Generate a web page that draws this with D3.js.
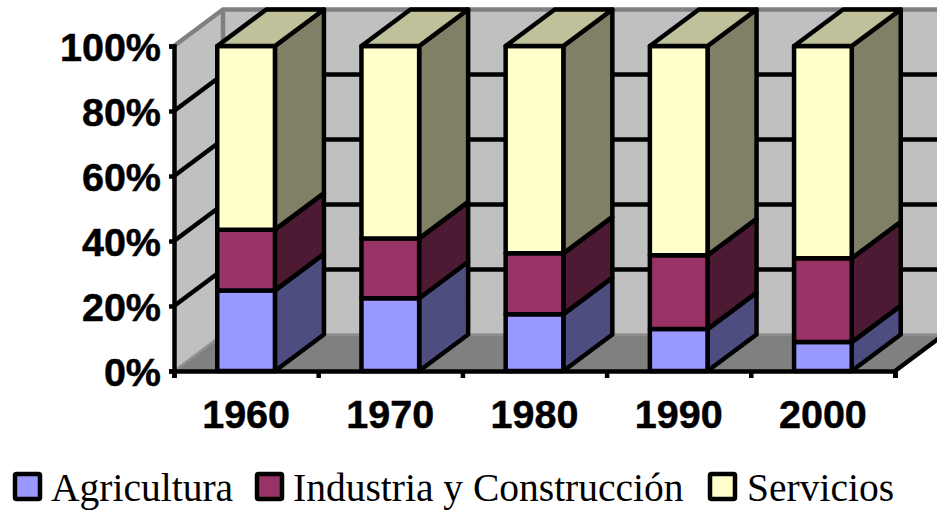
<!DOCTYPE html>
<html>
<head>
<meta charset="utf-8">
<script src="https://cdn.jsdelivr.net/npm/d3@7"></script>
<style>
  html, body { margin: 0; padding: 0; background: #fff; overflow: hidden; }
  svg { display: block; }
  .axis-label text { font-family: "Liberation Sans", Arial, sans-serif; font-weight: bold; font-size: 39.5px; fill: #000; stroke: #000; stroke-width: 0.5px; }
  .legend text { font-family: "Liberation Serif", "Times New Roman", serif; font-size: 39.5px; fill: #000; }
</style>
</head>
<body>
<svg width="937" height="510"></svg>
<script>
const years = ['1960', '1970', '1980', '1990', '2000'];
const seriesNames = ['Agricultura', 'Industria y Construcción', 'Servicios'];
const agricultura = [24.8, 22.4, 17.5, 12.9, 8.9];
const industria = [18.7, 18.4, 18.7, 22.7, 25.8];
const servicios = [56.5, 59.2, 63.8, 64.4, 65.3];
const yTicks = [0, 20, 40, 60, 80, 100];

const frontColors = ['#9999ff', '#993366', '#ffffcc'];
const sideColors = ['#4d4d80', '#4d1a33', '#808066'];
const topColor = '#c0c09a';

const svg = d3.select('svg');

// front plane of the 3d box
const x0 = 174, x1 = 895, yBottom = 371, yTop = 46;
const depthX = 49, depthY = -36.5;
const lineW = 4.5;

const x = d3.scaleBand().domain(years).range([x0, x1]).paddingInner(0.6).paddingOuter(0.3);
const xEdges = d3.scaleLinear().domain([0, years.length]).range([x0, x1]);
const y = d3.scaleLinear().domain([0, 100]).range([yBottom, yTop]);

const rows = years.map((year, i) => ({
  year,
  [seriesNames[0]]: agricultura[i],
  [seriesNames[1]]: industria[i],
  [seriesNames[2]]: servicios[i]
}));
const stacked = d3.stack().keys(seriesNames)(rows);

const poly = pts => pts.map(p => p.join(',')).join(' ');

// walls and floor
svg.append('polygon')
  .attr('points', poly([[x0, yBottom], [x0, yTop], [x0 + depthX, yTop + depthY], [x0 + depthX, yBottom + depthY]]))
  .attr('fill', '#c0c0c0');
svg.append('rect')
  .attr('x', x0 + depthX).attr('y', yTop + depthY)
  .attr('width', x1 - x0).attr('height', yBottom - yTop)
  .attr('fill', '#c0c0c0');
svg.append('polygon')
  .attr('points', poly([[x0, yBottom], [x0 + depthX, yBottom + depthY], [x1 + depthX, yBottom + depthY], [x1, yBottom]]))
  .attr('fill', '#808080');

// grey wall edges
svg.append('path')
  .attr('d', `M${x0},${yTop}L${x0 + depthX},${yTop + depthY}L${x1 + depthX},${yTop + depthY}M${x0 + depthX},${yTop + depthY}V${yBottom + depthY}`)
  .attr('fill', 'none').attr('stroke', '#808080').attr('stroke-width', lineW);
svg.append('path')
  .attr('d', `M${x0},${yBottom}L${x0 + depthX},${yBottom + depthY}H${x1 + depthX}`)
  .attr('fill', 'none').attr('stroke', '#909090').attr('stroke-width', 2.5);

// gridlines
svg.append('g').selectAll('path')
  .data(yTicks.filter(d => d > 0 && d < 100))
  .join('path')
  .attr('d', d => `M${x0},${y(d)}L${x0 + depthX},${y(d) + depthY}H${x1 + depthX}`)
  .attr('fill', 'none').attr('stroke', '#000').attr('stroke-width', lineW);

// floor right edge
svg.append('line')
  .attr('x1', x1).attr('y1', yBottom)
  .attr('x2', x1 + depthX).attr('y2', yBottom + depthY)
  .attr('stroke', '#000').attr('stroke-width', lineW);

// bars
const bars = svg.append('g').attr('stroke', '#000').attr('stroke-width', lineW).attr('stroke-linejoin', 'round');
years.forEach((year, i) => {
  const left = x(year), right = left + x.bandwidth();
  stacked.forEach((layer, s) => {
    const [v0, v1] = layer[i];
    bars.append('polygon')
      .attr('points', poly([[right, y(v0)], [right + depthX, y(v0) + depthY], [right + depthX, y(v1) + depthY], [right, y(v1)]]))
      .attr('fill', sideColors[s]);
    bars.append('rect')
      .attr('x', left).attr('y', y(v1))
      .attr('width', x.bandwidth()).attr('height', y(v0) - y(v1))
      .attr('fill', frontColors[s]);
  });
  bars.append('polygon')
    .attr('points', poly([[left, yTop], [left + depthX, yTop + depthY], [right + depthX, yTop + depthY], [right, yTop]]))
    .attr('fill', topColor);
});

// axes
const yAxis = svg.append('g')
  .attr('transform', `translate(${x0},0)`)
  .call(d3.axisLeft(y).tickValues(yTicks).tickSize(5).tickPadding(8).tickFormat(d => d + '%'));
yAxis.attr('class', 'axis-label');
yAxis.selectAll('line').attr('stroke', '#000').attr('stroke-width', lineW);
yAxis.select('.domain').attr('stroke', '#000').attr('stroke-width', lineW);
yAxis.selectAll('text').attr('dy', '0.36em');

const xTicks = svg.append('g')
  .attr('transform', `translate(0,${yBottom})`)
  .call(d3.axisBottom(xEdges).ticks(years.length).tickSize(7).tickFormat(''));
xTicks.selectAll('line').attr('stroke', '#000').attr('stroke-width', lineW);
xTicks.select('.domain').attr('stroke', '#000').attr('stroke-width', lineW);

const xLabels = svg.append('g')
  .attr('class', 'axis-label')
  .attr('transform', `translate(0,${yBottom})`)
  .call(d3.axisBottom(x).tickSize(0).tickPadding(29));
xLabels.select('.domain').remove();

// legend
const legendKeyX = [15, 257, 710];
const legendTextX = [51, 293, 747];
const legend = svg.append('g').attr('class', 'legend');
seriesNames.forEach((name, i) => {
  legend.append('rect')
    .attr('x', legendKeyX[i]).attr('y', 474)
    .attr('width', 25).attr('height', 25)
    .attr('rx', 1.5)
    .attr('fill', frontColors[i]).attr('stroke', '#000').attr('stroke-width', lineW);
  legend.append('text')
    .attr('x', legendTextX[i]).attr('y', 501)
    .text(name);
});
</script>
</body>
</html>
